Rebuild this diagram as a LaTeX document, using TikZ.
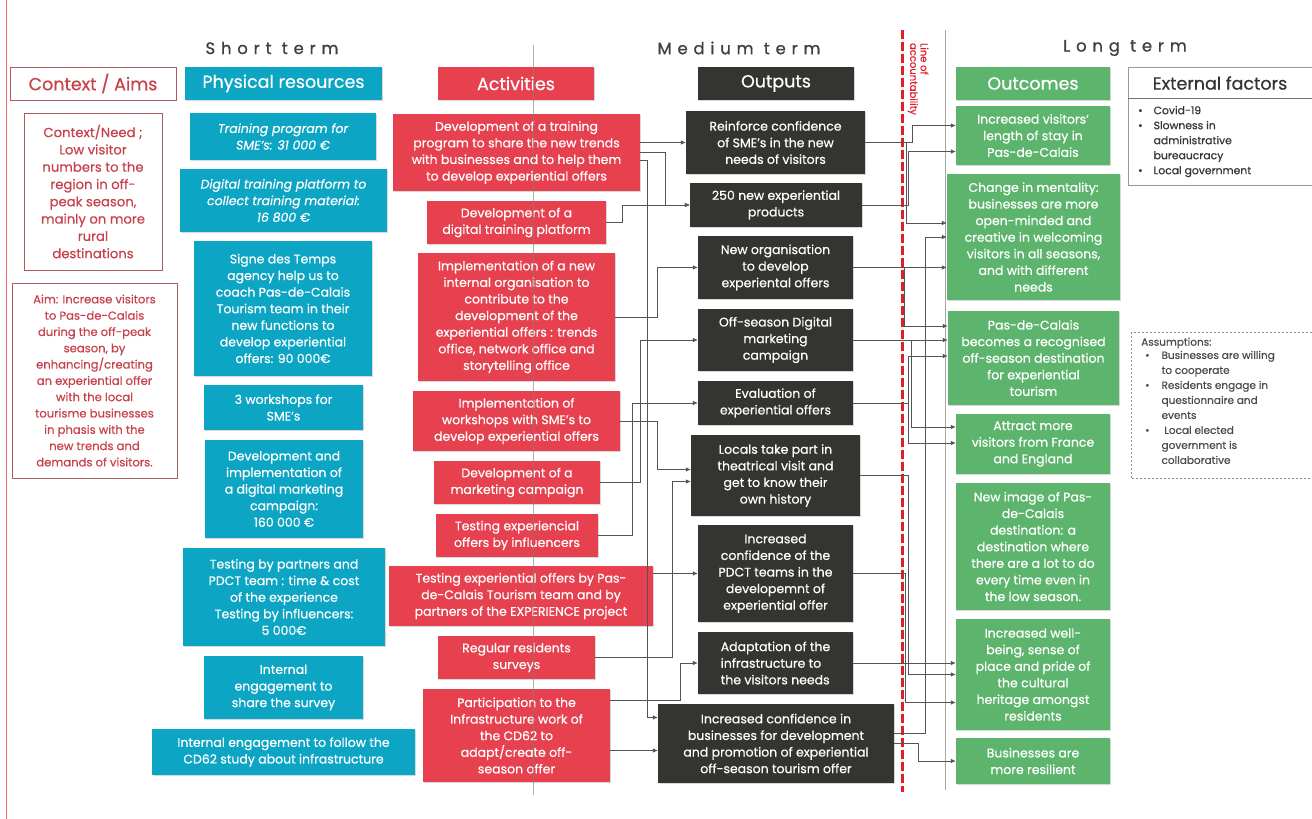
\documentclass[tikz,border=0pt]{standalone}
\usepackage{fontspec}
\setmainfont{Poppins}[UprightFeatures={FakeBold=0.5},ItalicFeatures={FakeBold=0.5}]
\newfontfamily\spacedfont[LetterSpace=35,FakeBold=0.8]{Poppins}
\usetikzlibrary{arrows.meta,shadows,calc}
\definecolor{tealc}{RGB}{12,165,196}
\definecolor{redc}{RGB}{231,64,78}
\definecolor{darkc}{RGB}{52,52,49}
\definecolor{greenc}{RGB}{93,180,109}
\definecolor{ctxred}{RGB}{200,66,76}
\definecolor{ctxborder}{RGB}{165,95,95}
\definecolor{linec}{RGB}{85,85,85}
\definecolor{dashred}{RGB}{225,30,40}
\begin{document}
\begin{tikzpicture}[x=1pt,y=-1pt,
  bx/.style={rectangle, inner sep=2pt, align=center, text=white,
    font=\fontsize{12.5}{16.6}\selectfont,
    drop shadow={shadow xshift=1.2pt, shadow yshift=-1.2pt, opacity=0.3}},
  rbox/.style={bx, fill=tealc},
  abox/.style={bx, fill=redc},
  obox/.style={bx, fill=darkc},
  gbox/.style={bx, fill=greenc},
  hdr/.style={font=\fontsize{17.5}{20}\selectfont},
  ctx/.style={bx, fill=white, draw=ctxborder, line width=0.9pt, text=ctxred},
  conn/.style={draw=linec, line width=0.7pt, -{Latex[length=5pt,width=4.5pt]}},
  term/.style={font=\spacedfont\fontsize{16.5}{19}\selectfont, text=black!75},
  sz/.style 2 args={minimum width=#1pt, minimum height=#2pt}
]
\useasboundingbox[fill=white] (0,0) rectangle (1312,819);

% guide lines
\draw[redc!80, line width=1pt] (6,0) -- (6,819);
\draw[black!35, line width=0.6pt] (945,30) -- (945,790);
\draw[dashred, line width=3pt, dash pattern=on 9pt off 3pt] (902,30) -- (902,792);
\node[rotate=-90, align=left, text=dashred, font=\fontsize{10}{10.5}\selectfont, inner sep=0] (loa) at (918,79) {Line of\\accountability};

% term headers
\node[term] (st) at (272,48) {Short term};
\node[term] (mt) at (739,48) {Medium term};
\node[term] (lt) at (1125,48) {Long term};

% context / aims
\node[ctx, hdr, sz={166}{33}] (ctxh) at (93,83.5) {Context / Aims};
\node[ctx, sz={138}{157}, font=\fontsize{13.2}{17.3}\selectfont] (ctx1) at (93,191.5) {Context/Need ;\\Low visitor\\numbers to the\\region in off-\\peak season,\\mainly on more\\rural\\destinations};
\node[ctx, sz={165}{195}, font=\fontsize{11.6}{16.3}\selectfont] (aim) at (94.5,380.5) {Aim: Increase visitors\\to Pas-de-Calais\\during the off-peak\\season, by\\enhancing/creating\\an experiential offer\\with the local\\tourisme businesses\\in phasis with the\\new trends and\\demands of visitors.};

% physical resources
\node[rbox, hdr, sz={197}{33}] (rh) at (283.5,83.5) {Physical resources};
\node[rbox, sz={186}{47}, font=\fontsize{12.5}{16.6}\selectfont\itshape] (r1) at (283,136.5) {Training program for\\SME’s: 31 000 €};
\node[rbox, sz={207}{63}, font=\fontsize{12.5}{16.6}\selectfont\itshape] (r2) at (283.5,200.5) {Digital training platform to\\collect training material:\\16 800 €};
\node[rbox, sz={178}{135}] (r3) at (283,308.5) {Signe des Temps\\agency help us to\\coach Pas-de-Calais\\Tourism team in their\\new functions to\\develop experiential\\offers: 90 000€};
\node[rbox, sz={159}{45}] (r4) at (283.5,407.5) {3 workshops for\\SME’s};
\node[rbox, sz={158}{98}] (r5) at (284,489) {Development and\\implementation of\\a digital marketing\\campaign:\\160 000 €};
\node[rbox, sz={202}{98}] (r6) at (284,597) {Testing by partners and\\PDCT team : time \& cost\\of the experience\\Testing by influencers:\\5 000€};
\node[rbox, sz={159}{63}] (r7) at (283.5,687.5) {Internal\\engagement to\\share the survey};
\node[rbox, sz={263}{46}] (r8) at (283.5,752) {Internal engagement to follow the\\CD62 study about infrastructure};

% activities
\node[abox, hdr, sz={156}{33}] (ah) at (516,83.5) {Activities};
\node[abox, sz={247}{77}] (a1) at (516.5,152.5) {Development of a training\\program to share the new trends\\with businesses and to help them\\to develop experiential offers};
\node[abox, sz={179}{43}] (a2) at (516.5,222.5) {Development of a\\digital training platform};
\node[abox, sz={197}{128}] (a3) at (516.5,317) {Implementation of a new\\internal organisation to\\contribute to the\\development of the\\experiential offers : trends\\office, network office and\\storytelling office};
\node[abox, sz={207}{60}] (a4) at (516.5,421) {Implementation of\\workshops with SME’s to\\develop experiential offers};
\node[abox, sz={166}{43}] (a5) at (517,482.5) {Development of a\\marketing campaign};
\node[abox, sz={162}{43}] (a6) at (517,535.5) {Testing experiencial\\offers by influencers};
\node[abox, sz={264}{60}] (a7) at (521,596) {Testing experiential offers by Pas-\\de-Calais Tourism team and by\\partners of the EXPERIENCE project};
\node[abox, sz={157}{43}] (a8) at (516.5,657.5) {Regular residents\\surveys};
\node[abox, sz={187}{93}] (a9) at (516.5,735.5) {Participation to the\\Infrastructure work of\\the CD62 to\\adapt/create off-\\season offer};

% outputs
\node[obox, hdr, sz={156}{33}] (oh) at (776,83.5) {Outputs};
\node[obox, sz={179}{63}] (o1) at (775.5,142.5) {Reinforce confidence\\of SME’s in the new\\needs of visitors};
\node[obox, sz={172}{44}] (o2) at (776,205) {250 new experiential\\products};
\node[obox, sz={155}{63}] (o3) at (775.5,267.5) {New organisation\\to develop\\experiental offers};
\node[obox, sz={155}{62}] (o4) at (775.5,340) {Off-season Digital\\marketing\\campaign};
\node[obox, sz={155}{44}] (o5) at (775.5,403) {Evaluation of\\experiential offers};
\node[obox, sz={169}{81}] (o6) at (775.5,475.5) {Locals take part in\\theatrical visit and\\get to know their\\own history};
\node[obox, sz={155}{97}] (o7) at (775.5,573.5) {Increased\\confidence of the\\PDCT teams in the\\developemnt of\\experiential offer};
\node[obox, sz={155}{62}, align=left] (o8) at (775.5,663) {Adaptation of the\\infrastructure to\\the visitors needs};
\node[obox, sz={236}{79}] (o9) at (776,743.5) {Increased confidence in\\businesses for development\\and promotion of experiential\\off-season tourism offer};

% outcomes
\node[gbox, hdr, sz={154}{33}] (gh) at (1033,83.5) {Outcomes};
\node[gbox, sz={154}{59}] (g1) at (1033,135.5) {Increased visitors’\\length of stay in\\Pas-de-Calais};
\node[gbox, sz={173}{126}] (g2) at (1033.5,237) {Change in mentality:\\businesses are more\\open-minded and\\creative in welcoming\\visitors in all seasons,\\and with different\\needs};
\node[gbox, sz={171}{94}] (g3) at (1033.5,358) {Pas-de-Calais\\becomes a recognised\\off-season destination\\for experiential\\tourism};
\node[gbox, sz={154}{60}] (g4) at (1033,444) {Attract more\\visitors from France\\and England};
\node[gbox, sz={154}{127}] (g5) at (1033,546.5) {New image of Pas-\\de-Calais\\destination: a\\destination where\\there are a lot to do\\every time even in\\the low season.};
\node[gbox, sz={154}{111}] (g6) at (1033,674.5) {Increased well-\\being, sense of\\place and pride of\\the cultural\\heritage amongst\\residents};
\node[gbox, sz={154}{46}] (g7) at (1033,761) {Businesses are\\more resilient};

% external factors
\node[draw=black!40, fill=white, sz={184}{118}, inner sep=0,
  drop shadow={shadow xshift=1.2pt, shadow yshift=-1.2pt, opacity=0.3}] (ext) at (1220,126) {};
\draw[black!55, line width=0.7pt] ($(ext.north west)+(0,32)$) -- ($(ext.north east)+(0,32)$);
\node[hdr, text=darkc] (exth) at (1220,83) {External factors};
\node[anchor=north west, align=left, font=\fontsize{10.8}{15}\selectfont, text=darkc, inner sep=0] (extl) at (1138,103.5)
  {\begin{tabular}{@{}l@{\hspace{11pt}}l@{}}•&Covid-19\\•&Slowness in\\&administrative\\&bureaucracy\\•&Local government\end{tabular}};

% assumptions
\node[draw=black!45, dash pattern=on 2pt off 2pt, line width=0.7pt, sz={181}{146}, inner sep=0] (asm) at (1222,405) {};
\node[anchor=north west, align=left, font=\fontsize{10.5}{15}\selectfont, text=black!70, inner sep=0] (asmt) at (1141,337.5)
  {Assumptions:\\[-1pt]\begin{tabular}{@{\hspace{4pt}}l@{\hspace{12pt}}l@{}}•&Businesses are willing\\&to cooperate\\•&Residents engage in\\&questionnaire and\\&events\\•&\ Local elected\\&government is\\&collaborative\end{tabular}};

% activities -> outputs
\draw[conn] (a1.east |- o1.west) -- (o1.west);
\draw[conn] (a1.east) -- ++(25,0) |- (o2.west);
\draw[conn] (a2.east) -- ++(16,0) |- (o2.west);
\draw[conn] (a3.east) -- ++(42,0) |- (o3.west);
\draw[conn] (a5.east) -- ++(40,0) |- (o4.west);
\draw[conn] (a6.east) -- ++(34,0) |- (o5.west);
\draw[conn] (a4.east) -- ++(37,0) |- ($(o6.west)+(0,-6)$);
\draw[conn] (a8.east) -- ++(77,0) |- ($(o6.west)+(0,6)$);
\draw[conn] (a7.east |- o7.west) -- (o7.west);
\draw[conn] ($(a9.east)+(0,-35)$) -- ++(70,0) |- (o8.west);
\draw[conn] ($(a1.east)+(0,8)$) -- ++(7,0) |- ($(o9.west)+(0,-26)$);
\draw[conn] ($(a9.east)+(0,15)$) -- ($(o9.west)+(0,7)$);

% outputs -> outcomes
\draw[conn] (o1.east) -- ++(47,0) |- ($(g1.west)+(0,-10)$);
\draw[conn] (o2.east) -- ++(46,0) |- ($(g1.west)+(0,16)$);
\draw[conn] (o1.east) -- ++(41,0) |- ($(g2.west)+(0,-14)$);
\draw[conn] (o3.east) -- (o3.east -| g2.west);
\draw[conn] ($(o9.east)+(0,-10)$) -- ++(31,0) |- (g2.west);
\draw[conn] (o3.east) -- ++(51,0) |- ($(g3.west)+(0,-32)$);
\draw[conn] (o4.east) -- (o4.east -| g3.west);
\draw[conn] (o5.east) -- ++(55,0) |- ($(g3.west)+(0,-2)$);
\draw[conn] (o4.east) -- ++(58,0) |- ($(g4.west)+(0,-17)$);
\draw[conn] (o5.east) -- ++(55,0) |- ($(g4.west)+(0,-1)$);
\draw[conn] (o6.east) -- ++(48,0) |- (g6.west);
\draw[conn] (o7.east) -- ++(52,0) |- ($(g6.west)+(0,28)$);
\draw[conn] (o8.east) -- (o8.east -| g6.west);
\draw[conn] (o9.east) -- ++(24,0) |- (g7.west);

% central time divider drawn over the activities
\draw[black!50, line width=0.6pt, opacity=0.6] (533,45) -- (533,795);
\end{tikzpicture}
\end{document}
